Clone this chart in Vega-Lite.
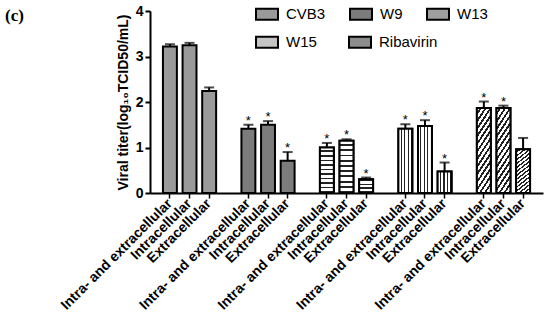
{
  "$schema": "https://vega.github.io/schema/vega-lite/v6.json",
  "autosize": {"type": "none"},
  "padding": {"left": 150, "top": 11, "right": 7, "bottom": 127},
  "width": 393,
  "height": 182,
  "background": "white",
  "title": {
    "text": "(c)",
    "orient": "top",
    "anchor": "start",
    "frame": "group",
    "align": "left",
    "baseline": "bottom",
    "dx": -145,
    "dy": 44,
    "font": "Liberation Serif",
    "fontSize": 17,
    "fontWeight": "bold",
    "color": "black"
  },
  "data": {
    "values": [
      {"id": "CVB3|Intra- and extracellular", "group": "CVB3", "value": 3.22, "upper": 3.27, "star": ""},
      {"id": "CVB3|Intracellular", "group": "CVB3", "value": 3.25, "upper": 3.30, "star": ""},
      {"id": "CVB3|Extracellular", "group": "CVB3", "value": 2.24, "upper": 2.32, "star": ""},
      {"id": "W9|Intra- and extracellular", "group": "W9", "value": 1.41, "upper": 1.50, "star": "*"},
      {"id": "W9|Intracellular", "group": "W9", "value": 1.50, "upper": 1.58, "star": "*"},
      {"id": "W9|Extracellular", "group": "W9", "value": 0.71, "upper": 0.90, "star": "*"},
      {"id": "W13|Intra- and extracellular", "group": "W13", "value": 1.00, "upper": 1.10, "star": "*"},
      {"id": "W13|Intracellular", "group": "W13", "value": 1.15, "upper": 1.18, "star": "*"},
      {"id": "W13|Extracellular", "group": "W13", "value": 0.30, "upper": 0.34, "star": "*"},
      {"id": "W15|Intra- and extracellular", "group": "W15", "value": 1.41, "upper": 1.51, "star": "*"},
      {"id": "W15|Intracellular", "group": "W15", "value": 1.47, "upper": 1.60, "star": "*"},
      {"id": "W15|Extracellular", "group": "W15", "value": 0.47, "upper": 0.67, "star": "*"},
      {"id": "Ribavirin|Intra- and extracellular", "group": "Ribavirin", "value": 1.87, "upper": 2.01, "star": "*"},
      {"id": "Ribavirin|Intracellular", "group": "Ribavirin", "value": 1.87, "upper": 1.92, "star": "*"},
      {"id": "Ribavirin|Extracellular", "group": "Ribavirin", "value": 0.96, "upper": 1.21, "star": ""}
    ]
  },
  "encoding": {
    "x": {
      "field": "id",
      "type": "nominal",
      "sort": null,
      "scale": {
        "domain": [
          "CVB3|Intra- and extracellular", "CVB3|Intracellular", "CVB3|Extracellular", "gap1",
          "W9|Intra- and extracellular", "W9|Intracellular", "W9|Extracellular", "gap2",
          "W13|Intra- and extracellular", "W13|Intracellular", "W13|Extracellular", "gap3",
          "W15|Intra- and extracellular", "W15|Intracellular", "W15|Extracellular", "gap4",
          "Ribavirin|Intra- and extracellular", "Ribavirin|Intracellular", "Ribavirin|Extracellular"
        ],
        "paddingInner": 0.29,
        "paddingOuter": 0.66
      },
      "axis": {
        "title": null,
        "values": [
          "CVB3|Intra- and extracellular", "CVB3|Intracellular", "CVB3|Extracellular",
          "W9|Intra- and extracellular", "W9|Intracellular", "W9|Extracellular",
          "W13|Intra- and extracellular", "W13|Intracellular", "W13|Extracellular",
          "W15|Intra- and extracellular", "W15|Intracellular", "W15|Extracellular",
          "Ribavirin|Intra- and extracellular", "Ribavirin|Intracellular", "Ribavirin|Extracellular"
        ],
        "labelExpr": "split(datum.value, '|')[1]",
        "labelAngle": -45,
        "labelAlign": "right",
        "labelBaseline": "middle",
        "labelFont": "Liberation Sans",
        "labelFontSize": 14,
        "labelFontWeight": "bold",
        "labelColor": "black",
        "labelPadding": 3,
        "labelLimit": 300,
        "domainColor": "black",
        "domainWidth": 2,
        "tickColor": "black",
        "tickWidth": 1.5,
        "tickSize": 5
      }
    },
    "y": {
      "field": "value",
      "type": "quantitative",
      "scale": {"domain": [0, 4], "nice": false},
      "axis": {
        "title": "Viral titer(log₁₀TCID50/mL)",
        "titleFont": "Liberation Sans",
        "titleFontSize": 14,
        "titleFontWeight": "bold",
        "titleColor": "black",
        "titlePadding": 5,
        "values": [0, 1, 2, 3, 4],
        "labelFont": "Liberation Sans",
        "labelFontSize": 14,
        "labelFontWeight": "bold",
        "labelColor": "black",
        "labelPadding": 2,
        "grid": false,
        "domainColor": "black",
        "domainWidth": 2,
        "tickColor": "black",
        "tickWidth": 2,
        "tickSize": 5
      }
    }
  },
  "layer": [
    {
      "transform": [{"filter": "datum.group === 'CVB3' || datum.group === 'W9' || datum.group === 'W13'"}],
      "mark": {"type": "bar", "stroke": "black", "strokeWidth": 2},
      "encoding": {
        "fill": {
          "field": "group",
          "type": "nominal",
          "scale": {
            "domain": ["CVB3", "W9", "W13"],
            "range": ["#9a9a9a", "#7c7c7c", "#9e9e9e"]
          },
          "legend": {
            "title": null,
            "orient": "none",
            "legendX": 105,
            "legendY": -9,
            "direction": "horizontal",
            "columns": 3,
            "gridAlign": "each",
            "columnPadding": 20,
            "symbolType": "M-1,-0.5H1V0.5H-1Z",
            "symbolSize": 484,
            "symbolStrokeColor": "black",
            "symbolStrokeWidth": 2,
            "symbolOpacity": 1,
            "labelFont": "Liberation Sans",
            "labelFontSize": 15,
            "labelColor": "black",
            "labelOffset": 7
          }
        }
      }
    },
    {
      "transform": [{"filter": "datum.group === 'W15' || datum.group === 'Ribavirin'"}],
      "mark": {"type": "bar", "stroke": "black", "strokeWidth": 2},
      "encoding": {
        "fill": {
          "field": "group",
          "type": "nominal",
          "scale": {
            "domain": ["W15", "Ribavirin"],
            "range": ["#c4c4c4", "#8c8c8c"]
          },
          "legend": {
            "title": null,
            "orient": "none",
            "legendX": 105,
            "legendY": 19,
            "direction": "horizontal",
            "columns": 2,
            "gridAlign": "each",
            "columnPadding": 28,
            "symbolType": "M-1,-0.5H1V0.5H-1Z",
            "symbolSize": 484,
            "symbolStrokeColor": "black",
            "symbolStrokeWidth": 2,
            "symbolOpacity": 1,
            "labelFont": "Liberation Sans",
            "labelFontSize": 15,
            "labelColor": "black",
            "labelOffset": 7
          }
        }
      }
    },
    {
      "transform": [{"filter": "datum.group === 'W13'"}],
      "mark": {"type": "bar", "stroke": "black", "strokeWidth": 2, "fill": {"gradient": "linear", "x1": 0, "y1": 0, "x2": 0, "y2": 1, "stops": [
        {"offset": 0, "color": "#ffffff"}, {"offset": 0.065, "color": "#ffffff"}, {"offset": 0.065, "color": "#222222"}, {"offset": 0.1, "color": "#222222"},
        {"offset": 0.1, "color": "#ffffff"}, {"offset": 0.165, "color": "#ffffff"}, {"offset": 0.165, "color": "#222222"}, {"offset": 0.2, "color": "#222222"},
        {"offset": 0.2, "color": "#ffffff"}, {"offset": 0.265, "color": "#ffffff"}, {"offset": 0.265, "color": "#222222"}, {"offset": 0.3, "color": "#222222"},
        {"offset": 0.3, "color": "#ffffff"}, {"offset": 0.365, "color": "#ffffff"}, {"offset": 0.365, "color": "#222222"}, {"offset": 0.4, "color": "#222222"},
        {"offset": 0.4, "color": "#ffffff"}, {"offset": 0.465, "color": "#ffffff"}, {"offset": 0.465, "color": "#222222"}, {"offset": 0.5, "color": "#222222"},
        {"offset": 0.5, "color": "#ffffff"}, {"offset": 0.565, "color": "#ffffff"}, {"offset": 0.565, "color": "#222222"}, {"offset": 0.6, "color": "#222222"},
        {"offset": 0.6, "color": "#ffffff"}, {"offset": 0.665, "color": "#ffffff"}, {"offset": 0.665, "color": "#222222"}, {"offset": 0.7, "color": "#222222"},
        {"offset": 0.7, "color": "#ffffff"}, {"offset": 0.765, "color": "#ffffff"}, {"offset": 0.765, "color": "#222222"}, {"offset": 0.8, "color": "#222222"},
        {"offset": 0.8, "color": "#ffffff"}, {"offset": 0.865, "color": "#ffffff"}, {"offset": 0.865, "color": "#222222"}, {"offset": 0.9, "color": "#222222"},
        {"offset": 0.9, "color": "#ffffff"}, {"offset": 0.965, "color": "#ffffff"}, {"offset": 0.965, "color": "#222222"}, {"offset": 1, "color": "#222222"}
      ]}},
      "encoding": {}
    },
    {
      "transform": [{"filter": "datum.group === 'W15'"}],
      "mark": {"type": "bar", "stroke": "black", "strokeWidth": 2, "fill": {"gradient": "linear", "x1": 0, "y1": 0, "x2": 1, "y2": 0, "stops": [
        {"offset": 0, "color": "#ffffff"}, {"offset": 0.17, "color": "#ffffff"}, {"offset": 0.17, "color": "#222222"}, {"offset": 0.25, "color": "#222222"},
        {"offset": 0.25, "color": "#ffffff"}, {"offset": 0.42, "color": "#ffffff"}, {"offset": 0.42, "color": "#222222"}, {"offset": 0.5, "color": "#222222"},
        {"offset": 0.5, "color": "#ffffff"}, {"offset": 0.67, "color": "#ffffff"}, {"offset": 0.67, "color": "#222222"}, {"offset": 0.75, "color": "#222222"},
        {"offset": 0.75, "color": "#ffffff"}, {"offset": 0.92, "color": "#ffffff"}, {"offset": 0.92, "color": "#222222"}, {"offset": 1, "color": "#222222"}
      ]}},
      "encoding": {}
    },
    {
      "transform": [{"filter": "datum.group === 'Ribavirin'"}],
      "mark": {"type": "bar", "stroke": "black", "strokeWidth": 2, "fill": {"gradient": "linear", "x1": 0, "y1": 0, "x2": 0.294, "y2": 1.176, "stops": [
        {"offset": 0, "color": "#ffffff"}, {"offset": 0.04, "color": "#ffffff"}, {"offset": 0.04, "color": "#222222"}, {"offset": 0.0714, "color": "#222222"},
        {"offset": 0.0714, "color": "#ffffff"}, {"offset": 0.1114, "color": "#ffffff"}, {"offset": 0.1114, "color": "#222222"}, {"offset": 0.1429, "color": "#222222"},
        {"offset": 0.1429, "color": "#ffffff"}, {"offset": 0.1829, "color": "#ffffff"}, {"offset": 0.1829, "color": "#222222"}, {"offset": 0.2143, "color": "#222222"},
        {"offset": 0.2143, "color": "#ffffff"}, {"offset": 0.2543, "color": "#ffffff"}, {"offset": 0.2543, "color": "#222222"}, {"offset": 0.2857, "color": "#222222"},
        {"offset": 0.2857, "color": "#ffffff"}, {"offset": 0.3257, "color": "#ffffff"}, {"offset": 0.3257, "color": "#222222"}, {"offset": 0.3571, "color": "#222222"},
        {"offset": 0.3571, "color": "#ffffff"}, {"offset": 0.3971, "color": "#ffffff"}, {"offset": 0.3971, "color": "#222222"}, {"offset": 0.4286, "color": "#222222"},
        {"offset": 0.4286, "color": "#ffffff"}, {"offset": 0.4686, "color": "#ffffff"}, {"offset": 0.4686, "color": "#222222"}, {"offset": 0.5, "color": "#222222"},
        {"offset": 0.5, "color": "#ffffff"}, {"offset": 0.54, "color": "#ffffff"}, {"offset": 0.54, "color": "#222222"}, {"offset": 0.5714, "color": "#222222"},
        {"offset": 0.5714, "color": "#ffffff"}, {"offset": 0.6114, "color": "#ffffff"}, {"offset": 0.6114, "color": "#222222"}, {"offset": 0.6429, "color": "#222222"},
        {"offset": 0.6429, "color": "#ffffff"}, {"offset": 0.6829, "color": "#ffffff"}, {"offset": 0.6829, "color": "#222222"}, {"offset": 0.7143, "color": "#222222"},
        {"offset": 0.7143, "color": "#ffffff"}, {"offset": 0.7543, "color": "#ffffff"}, {"offset": 0.7543, "color": "#222222"}, {"offset": 0.7857, "color": "#222222"},
        {"offset": 0.7857, "color": "#ffffff"}, {"offset": 0.8257, "color": "#ffffff"}, {"offset": 0.8257, "color": "#222222"}, {"offset": 0.8571, "color": "#222222"},
        {"offset": 0.8571, "color": "#ffffff"}, {"offset": 0.8971, "color": "#ffffff"}, {"offset": 0.8971, "color": "#222222"}, {"offset": 0.9286, "color": "#222222"},
        {"offset": 0.9286, "color": "#ffffff"}, {"offset": 0.9686, "color": "#ffffff"}, {"offset": 0.9686, "color": "#222222"}, {"offset": 1, "color": "#222222"}
      ]}},
      "encoding": {}
    },
    {
      "mark": {"type": "rule", "color": "black", "strokeWidth": 2},
      "encoding": {"y2": {"field": "upper"}}
    },
    {
      "mark": {"type": "tick", "color": "black", "thickness": 2, "size": 10},
      "encoding": {"y": {"field": "upper", "type": "quantitative"}}
    },
    {
      "mark": {"type": "text", "baseline": "alphabetic", "dy": 0, "font": "Liberation Sans", "fontSize": 13, "color": "black"},
      "encoding": {"y": {"field": "upper", "type": "quantitative"}, "text": {"field": "star"}}
    }
  ],
  "resolve": {"scale": {"fill": "independent"}, "legend": {"fill": "independent"}},
  "config": {"view": {"stroke": null}}
}
